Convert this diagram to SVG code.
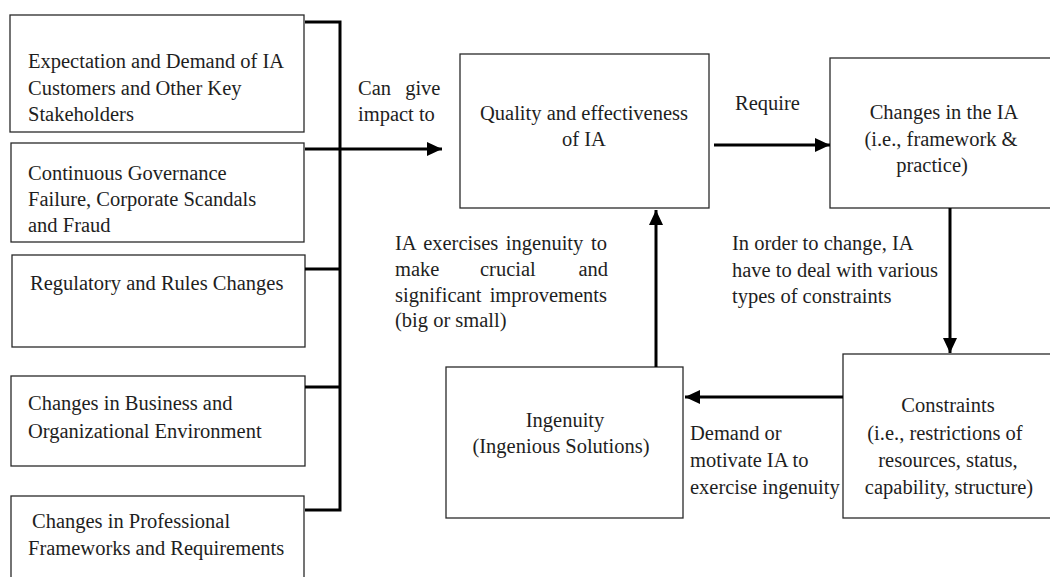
<svg xmlns="http://www.w3.org/2000/svg" width="1050" height="577" viewBox="0 0 1050 577">
  <style>
    .box { fill: #ffffff; stroke: #2a2a2a; stroke-width: 1.3; }
    .txt { font-family: "Liberation Serif", "Times New Roman", serif; font-size: 20.5px; fill: #1e1e1e; }
    .mid { text-anchor: middle; }
    .end { text-anchor: end; }
    .wire { fill: none; stroke: #000000; stroke-width: 3; }
  </style>
  <defs>
    <marker id="head" markerUnits="userSpaceOnUse" markerWidth="16" markerHeight="14" refX="15" refY="7" orient="auto">
      <path d="M0,0 L15,7 L0,14 z" fill="#000000"/>
    </marker>
  </defs>
  <rect width="1050" height="577" fill="#ffffff"/>

  <!-- driving factors -->
  <g id="expectation">
    <rect class="box" x="10" y="15" width="294" height="117"/>
    <text class="txt" x="28" y="68">Expectation and Demand of IA</text>
    <text class="txt" x="28" y="95">Customers and Other Key</text>
    <text class="txt" x="28" y="121">Stakeholders</text>
  </g>
  <g id="governance">
    <rect class="box" x="11" y="143" width="293" height="99"/>
    <text class="txt" x="28" y="180">Continuous Governance</text>
    <text class="txt" x="28" y="206">Failure, Corporate Scandals</text>
    <text class="txt" x="28" y="232">and Fraud</text>
  </g>
  <g id="regulatory">
    <rect class="box" x="12" y="255" width="293" height="92"/>
    <text class="txt" x="30" y="290">Regulatory and Rules Changes</text>
  </g>
  <g id="business">
    <rect class="box" x="11" y="376" width="294" height="90"/>
    <text class="txt" x="28" y="410">Changes in Business and</text>
    <text class="txt" x="28" y="438">Organizational Environment</text>
  </g>
  <g id="professional">
    <rect class="box" x="11" y="496" width="293" height="95"/>
    <text class="txt" x="32" y="528">Changes in Professional</text>
    <text class="txt" x="28" y="555">Frameworks and Requirements</text>
  </g>

  <!-- cycle -->
  <g id="quality">
    <rect class="box" x="460" y="54" width="249" height="154"/>
    <text class="txt mid" x="584" y="120">Quality and effectiveness</text>
    <text class="txt mid" x="584" y="146">of IA</text>
  </g>
  <g id="changes">
    <rect class="box" x="830" y="58" width="232" height="150"/>
    <text class="txt mid" x="944" y="119">Changes in the IA</text>
    <text class="txt mid" x="941" y="146">(i.e., framework &amp;</text>
    <text class="txt mid" x="932" y="172">practice)</text>
  </g>
  <g id="constraints">
    <rect class="box" x="843" y="354" width="222" height="164"/>
    <text class="txt mid" x="948" y="412">Constraints</text>
    <text class="txt mid" x="945" y="440">(i.e., restrictions of</text>
    <text class="txt mid" x="948" y="467">resources, status,</text>
    <text class="txt mid" x="949" y="494">capability, structure)</text>
  </g>
  <g id="ingenuity">
    <rect class="box" x="446" y="367" width="237" height="151"/>
    <text class="txt mid" x="565" y="427">Ingenuity</text>
    <text class="txt mid" x="561" y="453">(Ingenious Solutions)</text>
  </g>

  <!-- connectors -->
  <g id="connectors">
    <path class="wire" d="M305,22 H340 V510 H305"/>
    <path class="wire" d="M305,269 H340"/>
    <path class="wire" d="M305,387 H340"/>
    <path class="wire" d="M305,149 H442" marker-end="url(#head)"/>
    <path class="wire" d="M714,145 H830" marker-end="url(#head)"/>
    <path class="wire" d="M950,208 V353" marker-end="url(#head)"/>
    <path class="wire" d="M843,397 H685" marker-end="url(#head)"/>
    <path class="wire" d="M656,367 V210" marker-end="url(#head)"/>
  </g>

  <!-- connector labels -->
  <g id="labels">
    <text class="txt" x="358" y="95" word-spacing="9">Can give</text>
    <text class="txt" x="358" y="121">impact to</text>
    <text class="txt" x="735" y="110">Require</text>
    <text class="txt" x="732" y="250">In order to change, IA</text>
    <text class="txt" x="732" y="277">have to deal with various</text>
    <text class="txt" x="732" y="303">types of constraints</text>
    <text class="txt" x="395" y="250" word-spacing="2.5">IA exercises ingenuity to</text>
    <text class="txt" x="395" y="276">make</text>
    <text class="txt" x="480" y="276">crucial</text>
    <text class="txt end" x="608" y="276">and</text>
    <text class="txt" x="395" y="302" word-spacing="3">significant improvements</text>
    <text class="txt" x="395" y="327">(big or small)</text>
    <text class="txt" x="690" y="440">Demand or</text>
    <text class="txt" x="690" y="467">motivate IA to</text>
    <text class="txt" x="690" y="494">exercise ingenuity</text>
  </g>
</svg>
